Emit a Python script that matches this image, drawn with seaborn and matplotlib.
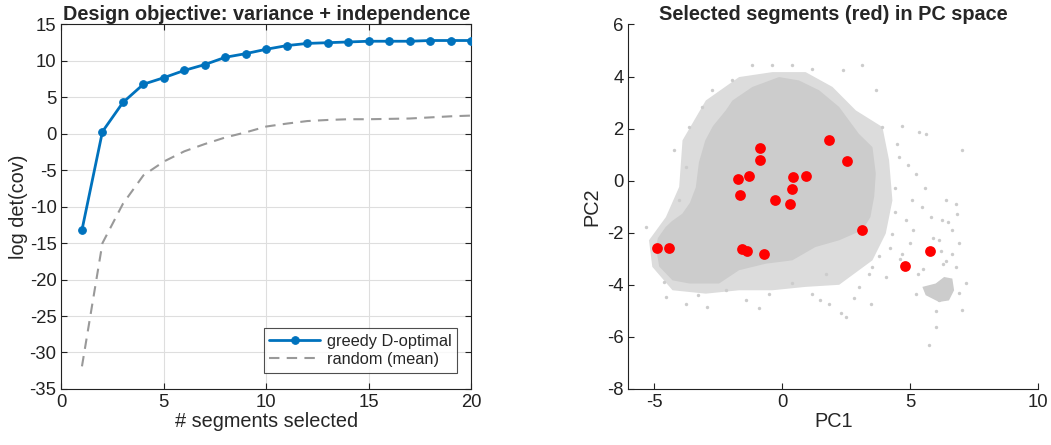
import numpy as np
import pandas as pd
import seaborn as sns
import matplotlib.pyplot as plt

# left panel: log det(cov) vs number of selected segments
n_selected = list(range(1, 21))
greedy_logdet = [-13.2, 0.3, 4.3, 6.8, 7.7, 8.7, 9.5, 10.5, 11.0, 11.6,
                 12.1, 12.4, 12.5, 12.6, 12.7, 12.7, 12.7, 12.8, 12.8, 12.8]
random_logdet = [-31.9, -15.0, -9.6, -5.7, -3.8, -2.4, -1.4, -0.5, 0.2, 1.0,
                 1.4, 1.75, 1.9, 2.0, 2.0, 2.05, 2.1, 2.25, 2.4, 2.5]

# right panel: selected segments in PC space
sel_pc1 = [-4.87, -4.40, -1.74, -1.63, -1.28, -0.85, -0.85, -1.55, -1.37, -0.72,
           -0.26, 0.29, 0.40, 0.44, 0.95, 1.85, 2.55, 3.13, 4.82, 5.76]
sel_pc2 = [-2.57, -2.57, 0.08, -0.54, 0.19, 1.24, 0.81, -2.61, -2.69, -2.80,
           -0.73, -0.91, -0.32, 0.13, 0.19, 1.57, 0.77, -1.88, -3.26, -2.69]

# all segments: dense core outline, sparser halo, small blob, loose points
core_pc1 = [-2.2, -2.7, -3.0, -3.25, -3.37, -3.6, -3.9, -4.3, -4.55, -4.85, -4.93,
            -4.8, -4.28, -3.63, -2.46, -1.68, -0.64, 0.4, 1.3, 2.23, 3.14, 3.45,
            3.6, 3.66, 3.53, 3.0, 2.23, 1.45, 0.66, -0.12, -1.16, -1.94]
core_pc2 = [2.7, 2.1, 1.55, 0.7, -0.25, -0.85, -1.27, -1.55, -1.78, -2.2, -2.55,
            -3.3, -3.83, -3.95, -3.95, -3.44, -3.19, -3.06, -2.55, -2.29, -1.9,
            -1.4, -0.6, 0.27, 1.29, 1.8, 2.83, 3.47, 3.85, 3.98, 3.6, 3.08]
halo_pc1 = [-3.89, -2.98, -1.68, -0.38, 0.92, 1.97, 2.88, 3.92, 4.18, 4.31, 4.05,
            3.53, 2.23, 0.92, -0.38, -1.68, -2.98, -4.28, -5.07, -5.2, -4.54, -4.02]
halo_pc2 = [1.55, 3.08, 3.98, 4.17, 4.17, 3.6, 2.7, 2.06, 0.78, -0.76, -2.03,
            -3.06, -4.0, -4.08, -4.21, -4.21, -4.34, -4.21, -3.31, -2.29, -1.4, -0.24]
blob_pc1 = [5.48, 6.0, 6.33, 6.65, 6.72, 6.52, 6.13, 5.61]
blob_pc2 = [-4.08, -3.95, -3.7, -3.76, -4.21, -4.6, -4.66, -4.4]
loose_pc1 = [-1.16, -0.38, 0.4, 1.18, 2.36, 3.14, 3.68, 3.92, 4.7, 5.35, 5.61, 7.02,
             4.57, 5.22, 5.09, 5.48, 6.39, 6.78, 6.84, 6.26, 6.65, 4.83, 4.31, 6.13,
             6.65, 6.78, 7.17, 7.04, 6.0, 5.74, 5.22, 5.61, 6.13, 6.52, 3.53, 3.0,
             2.49, 2.29, 1.84, 3.46, 4.05, 1.71, 1.18, 0.4, -0.51, -1.42, -2.2,
             -2.92, -3.76, -4.54, -5.33, -4.22, -3.76, -4.02, -3.63, -2.72, -3.11,
             -1.94, 4.4, 5.0, 5.9, 4.6, 6.3, 6.9, 5.3, 6.0, 4.5, 4.9, 5.6, 6.5,
             4.4, 5.1, 5.8, 6.2, 4.7, 5.5, 6.4, 6.9, 4.2, 3.8, 3.4, 2.8, 1.5, -0.9,
             -3.3, -4.6]
loose_pc2 = [4.43, 4.43, 4.43, 4.3, 4.24, 4.43, 3.47, 2.06, 2.09, 1.87, 1.8, 1.16,
             0.91, 0.27, -0.76, -1.01, -0.76, -0.88, -1.27, -1.52, -1.91, -1.52,
             -2.03, -2.29, -2.8, -3.31, -3.95, -4.98, -5.62, -6.32, -4.34, -4.21,
             -4.6, -3.95, -3.31, -4.08, -5.23, -5.1, -4.72, -4.72, -3.7, -3.57,
             -4.34, -3.95, -4.34, -4.6, -4.21, -4.85, -4.72, -4.47, -1.78, 1.16,
             0.52, -0.76, 2.06, 3.47, 2.83, 3.85, -0.3, -2.4, -2.2, -3.0, -3.2,
             -4.3, -3.6, -5.0, 1.4, 0.6, -0.3, -1.6, -1.2, -1.9, -1.4, -2.7, -2.8,
             -3.4, -3.1, -2.4, -2.6, -2.9, -3.6, -4.5, -4.6, -4.9, -4.4, -3.9]

sns.set_style("white")
plt.rcParams['font.family'] = ['Liberation Sans', 'DejaVu Sans']
plt.rcParams['axes.unicode_minus'] = False
plt.rcParams['xtick.direction'] = 'in'
plt.rcParams['ytick.direction'] = 'in'

fig = plt.figure(figsize=(10.51, 4.45), dpi=100)
ax1 = fig.add_axes([0.0585, 0.126, 0.3897, 0.819])
ax2 = fig.add_axes([0.598, 0.126, 0.3897, 0.819])

# LEFT PANEL
blue = '#0072BD'
sns.lineplot(x=n_selected, y=greedy_logdet, ax=ax1, color=blue, lw=2, marker='o',
             markersize=5.5, markeredgecolor=blue, label='greedy D-optimal', zorder=3)
sns.lineplot(x=n_selected, y=random_logdet, ax=ax1, color='#999999', lw=1.5,
             linestyle=(0, (5, 3.5)), label='random (mean)', zorder=2)
ax1.set_xlim(0, 20)
ax1.set_ylim(-35, 15)
ax1.set_xticks(range(0, 21, 5))
ax1.set_yticks(range(-35, 16, 5))
ax1.grid(True, color='#dedede', lw=0.8)
ax1.tick_params(labelsize=13.3, length=4, width=0.8, bottom=True, left=True,
                top=True, right=True, colors='#222222')
for s in ax1.spines.values():
    s.set_color('#222222')
    s.set_linewidth(0.8)
ax1.set_xlabel('# segments selected', fontsize=14.3, labelpad=1)
ax1.set_ylabel('log det(cov)', fontsize=14.3, labelpad=1)
ax1.set_title('Design objective: variance + independence', fontsize=14.3,
              fontweight='bold', pad=3)
leg = ax1.legend(loc='lower right', fontsize=11.8, frameon=True, fancybox=False,
                 edgecolor='#222222', borderpad=0.35, handlelength=3.1,
                 labelspacing=0.2, borderaxespad=1.0, handletextpad=0.4,
                 bbox_to_anchor=(1.006, 0.0))
leg.get_frame().set_linewidth(0.8)

# RIGHT PANEL
gray = '#cccccc'
ax2.fill(halo_pc1, halo_pc2, color='#dcdcdc', lw=0, zorder=1)
ax2.fill(core_pc1, core_pc2, color=gray, lw=0, zorder=2)
ax2.fill(blob_pc1, blob_pc2, color=gray, lw=0, zorder=2)
sns.scatterplot(x=loose_pc1, y=loose_pc2, ax=ax2, color=gray, s=6, linewidth=0, zorder=2)
sns.scatterplot(x=sel_pc1, y=sel_pc2, ax=ax2, color='#ff0000', s=60, linewidth=0, zorder=3)
ax2.set_xlim(-6, 10)
ax2.set_ylim(-8, 6)
ax2.set_xticks([-5, 0, 5, 10])
ax2.set_yticks(range(-8, 7, 2))
ax2.tick_params(labelsize=13.3, length=4, width=0.8, bottom=True, left=True,
                colors='#222222')
sns.despine(ax=ax2)
for s in ax2.spines.values():
    s.set_color('#222222')
    s.set_linewidth(0.8)
ax2.set_xlabel('PC1', fontsize=14.3, labelpad=1)
ax2.set_ylabel('PC2', fontsize=14.3, labelpad=4)
ax2.set_title('Selected segments (red) in PC space', fontsize=14.3,
              fontweight='bold', pad=3)

fig.savefig('out.png', dpi=100)
